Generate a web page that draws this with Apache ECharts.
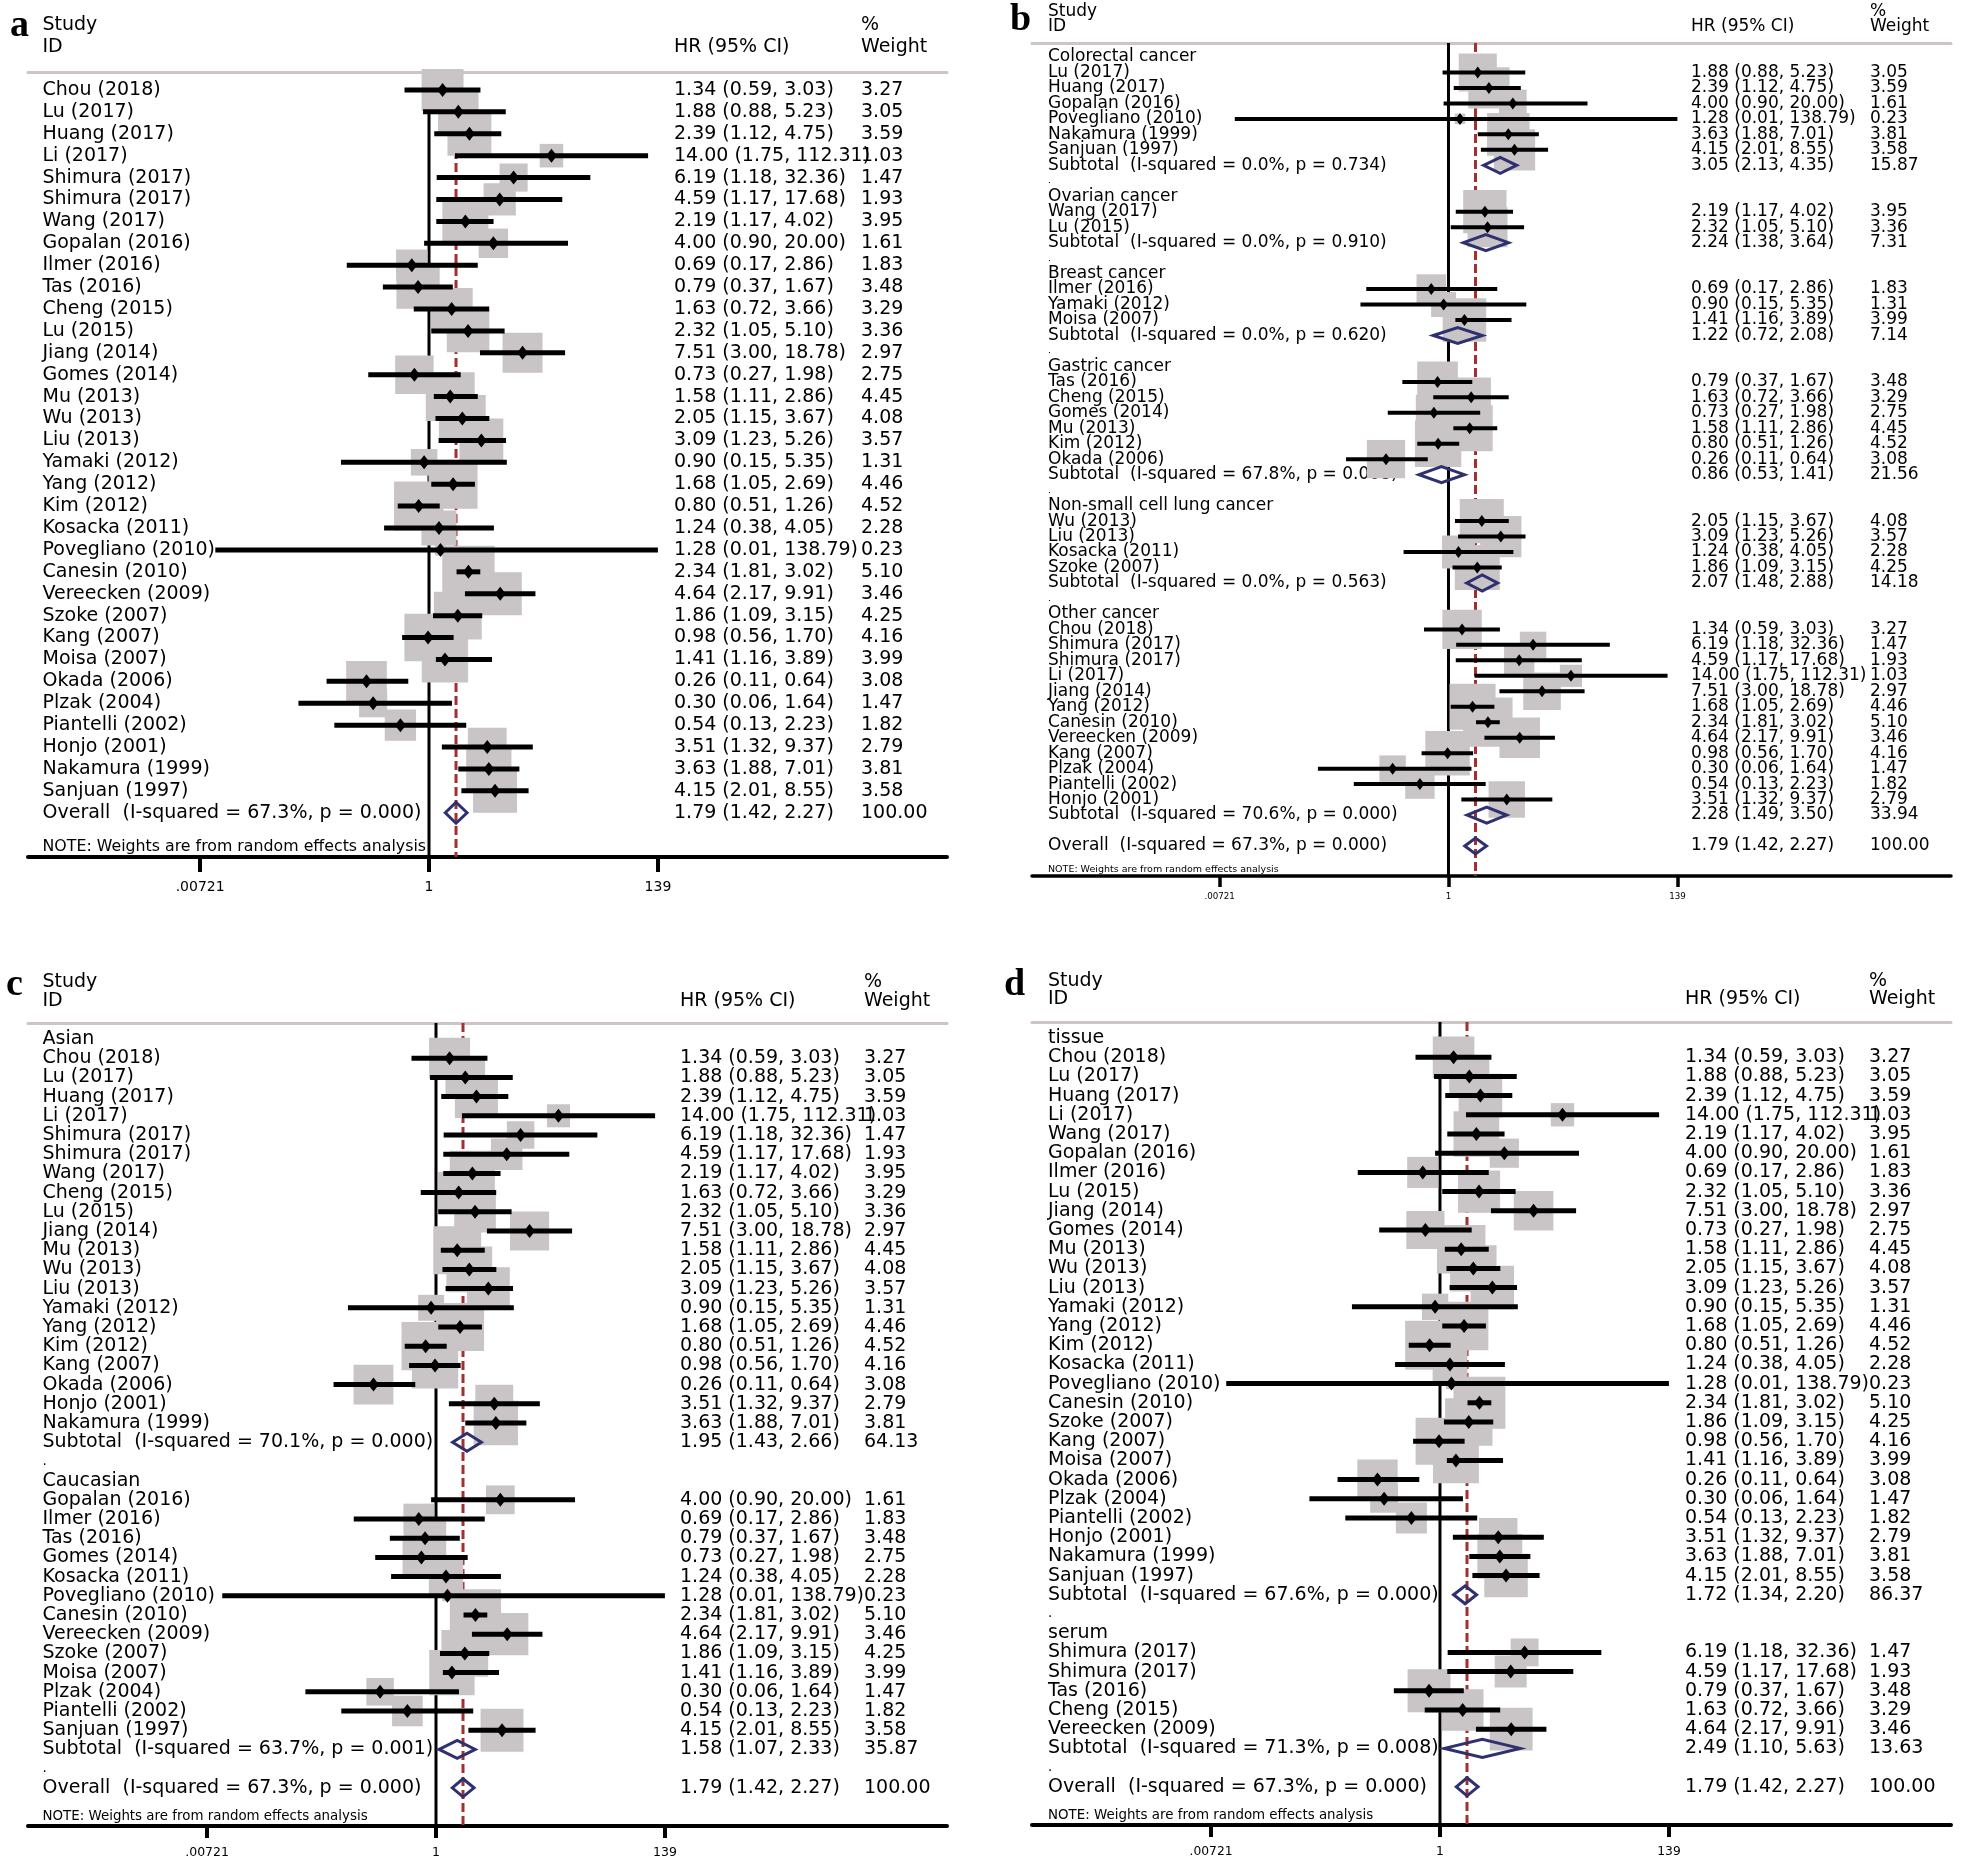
<!DOCTYPE html>
<html><head><meta charset="utf-8">
<script src="https://cdn.jsdelivr.net/npm/echarts@6/dist/echarts.min.js"></script>
<style>html,body{margin:0;padding:0;background:#fff}#main{width:1961px;height:1861px}</style>
</head><body><div id="main"></div>
<script>
// ---------------- DATA ----------------
const studyNames = ['Chou (2018)','Lu (2017)','Huang (2017)','Li (2017)','Shimura (2017)','Shimura (2017)','Wang (2017)','Gopalan (2016)','Ilmer (2016)','Tas (2016)','Cheng (2015)','Lu (2015)','Jiang (2014)','Gomes (2014)','Mu (2013)','Wu (2013)','Liu (2013)','Yamaki (2012)','Yang (2012)','Kim (2012)','Kosacka (2011)','Povegliano (2010)','Canesin (2010)','Vereecken (2009)','Szoke (2007)','Kang (2007)','Moisa (2007)','Okada (2006)','Plzak (2004)','Piantelli (2002)','Honjo (2001)','Nakamura (1999)','Sanjuan (1997)'];
const studyHR = [1.34,1.88,2.39,14.00,6.19,4.59,2.19,4.00,0.69,0.79,1.63,2.32,7.51,0.73,1.58,2.05,3.09,0.90,1.68,0.80,1.24,1.28,2.34,4.64,1.86,0.98,1.41,0.26,0.30,0.54,3.51,3.63,4.15];
const studyLower = [0.59,0.88,1.12,1.75,1.18,1.17,1.17,0.90,0.17,0.37,0.72,1.05,3.00,0.27,1.11,1.15,1.23,0.15,1.05,0.51,0.38,0.01,1.81,2.17,1.09,0.56,1.16,0.11,0.06,0.13,1.32,1.88,2.01];
const studyUpper = [3.03,5.23,4.75,112.31,32.36,17.68,4.02,20.00,2.86,1.67,3.66,5.10,18.78,1.98,2.86,3.67,5.26,5.35,2.69,1.26,4.05,138.79,3.02,9.91,3.15,1.70,3.89,0.64,1.64,2.23,9.37,7.01,8.55];
const studyWeight = [3.27,3.05,3.59,1.03,1.47,1.93,3.95,1.61,1.83,3.48,3.29,3.36,2.97,2.75,4.45,4.08,3.57,1.31,4.46,4.52,2.28,0.23,5.10,3.46,4.25,4.16,3.99,3.08,1.47,1.82,2.79,3.81,3.58];

const overallText = 'Overall  (I-squared = 67.3%, p = 0.000)';
const overallHR = 1.79, overallLower = 1.42, overallUpper = 2.27, overallWeight = 100.00;

// (b) cancer type
const cancerGroupNames = ['Colorectal cancer','Ovarian cancer','Breast cancer','Gastric cancer','Non-small cell lung cancer','Other cancer'];
const cancerGroupMembers = [[1,2,7,21,31,32],[6,11],[8,17,26],[9,10,13,14,19,27],[15,16,20,24],[0,4,5,3,12,18,22,23,25,28,29,30]];
const cancerI2 = ['0.0%','0.0%','0.0%','67.8%','0.0%','70.6%'];
const cancerP = ['0.734','0.910','0.620','0.008','0.563','0.000'];
const cancerHR = [3.05,2.24,1.22,0.86,2.07,2.28];
const cancerLower = [2.13,1.38,0.72,0.53,1.48,1.49];
const cancerUpper = [4.35,3.64,2.08,1.41,2.88,3.50];
const cancerWeight = [15.87,7.31,7.14,21.56,14.18,33.94];

// (c) ethnicity
const ethnicGroupNames = ['Asian','Caucasian'];
const ethnicGroupMembers = [[0,1,2,3,4,5,6,10,11,12,14,15,16,17,18,19,25,27,30,31],[7,8,9,13,20,21,22,23,24,26,28,29,32]];
const ethnicI2 = ['70.1%','63.7%'];
const ethnicP = ['0.000','0.001'];
const ethnicHR = [1.95,1.58];
const ethnicLower = [1.43,1.07];
const ethnicUpper = [2.66,2.33];
const ethnicWeight = [64.13,35.87];

// (d) sample type
const sampleGroupNames = ['tissue','serum'];
const sampleGroupMembers = [[0,1,2,3,6,7,8,11,12,13,14,15,16,17,18,19,20,21,22,24,25,26,27,28,29,30,31,32],[4,5,9,10,23]];
const sampleI2 = ['67.6%','71.3%'];
const sampleP = ['0.000','0.008'];
const sampleHR = [1.72,2.49];
const sampleLower = [1.34,1.10];
const sampleUpper = [2.20,5.63];
const sampleWeight = [86.37,13.63];

const axisTickValues = [0.00721, 1, 139];
const axisTickLabels = ['.00721', '1', '139'];
const nullValue = 1;
const noteText = 'NOTE: Weights are from random effects analysis';

// ---------------- LAYOUT / STYLE ----------------
const FONT = 'DejaVu Sans';
const panels = [
  {letter:'a', gN:null, left:28, top:72, width:919, height:785, xMin:1.766e-4, xMax:70470, yMin:-0.82, yMax:35.02,
   font:19, lh:18, noteFont:15.8, tickFont:14, tickLen:15, tickMargin:23, axisW:4, nameMargin:14.5, hrW:187, wW:86,
   boxK:23.2, ciW:5, pt:[11,14], sumH:21, noteOff:1.57, lx:10, ly:26, h1:25, h2:47, hrX:674, wX:861, nameX:42.5},
  {letter:'b', gN:cancerGroupNames, gM:cancerGroupMembers, i2:cancerI2, p:cancerP, hr:cancerHR, lo:cancerLower, hi:cancerUpper, w:cancerWeight, dotLast:false,
   left:1032, top:43, width:919, height:833, xMin:1.265e-4, xMax:50470, yMin:-0.905, yMax:52.94,
   font:17, lh:13, noteFont:9.5, tickFont:8.7, tickLen:11, tickMargin:16, axisW:3.5, nameMargin:16, hrW:179, wW:81,
   boxK:21.8, ciW:4, pt:[9,12], sumH:16, noteOff:1.5, lx:1010, ly:20, h1:11.5, h2:26.5, hrX:1691, wX:1870, nameX:1048},
  {letter:'c', gN:ethnicGroupNames, gM:ethnicGroupMembers, i2:ethnicI2, p:ethnicP, hr:ethnicHR, lo:ethnicLower, hi:ethnicUpper, w:ethnicWeight, dotLast:true,
   left:28, top:1023, width:919, height:803, xMin:1.521e-4, xMax:60530, yMin:-0.833, yMax:40.99,
   font:19, lh:16, noteFont:13.4, tickFont:12.5, tickLen:12, tickMargin:20.5, axisW:4, nameMargin:14.5, hrW:184, wW:83,
   boxK:22.7, ciW:5, pt:[11,14], sumH:18, noteOff:1.5, lx:6, ly:985, h1:982, h2:1001, hrX:680, wX:864, nameX:42.5},
  {letter:'d', gN:sampleGroupNames, gM:sampleGroupMembers, i2:sampleI2, p:sampleP, hr:sampleHR, lo:sampleLower, hi:sampleUpper, w:sampleWeight, dotLast:true,
   left:1032, top:1022, width:919, height:803, xMin:1.521e-4, xMax:60530, yMin:-0.833, yMax:40.99,
   font:19, lh:16, noteFont:13.4, tickFont:12.3, tickLen:12, tickMargin:20.5, axisW:4, nameMargin:16, hrW:184, wW:82,
   boxK:23, ciW:5, pt:[11,14], sumH:18, noteOff:1.5, lx:1004, ly:985, h1:981, h2:999, hrX:1685, wX:1869, nameX:1048}
];

const BOX_COLOR = '#c9c5c7';
const DIAMOND_COLOR = '#2e3070';
const RED = '#a3302f';
const HEADER_LINE = '#cdc4c5';

function fmtCI(h, l, u) { return h.toFixed(2) + ' (' + l.toFixed(2) + ', ' + u.toFixed(2) + ')'; }

function layoutRows(P) {
  const left = [], right = [], studies = [], summaries = [];
  let r = 0;
  const addStudy = i => {
    studies.push([i, r]);
    left.push([r, studyNames[i]]);
    right.push([r, fmtCI(studyHR[i], studyLower[i], studyUpper[i]), studyWeight[i].toFixed(2)]);
    r++;
  };
  const addSummary = (text, h, l, u, w) => {
    summaries.push([l, h, u, r]);
    left.push([r, text]);
    right.push([r, fmtCI(h, l, u), w.toFixed(2)]);
    r++;
  };
  if (!P.gN) {
    studyNames.forEach((_, i) => addStudy(i));
  } else {
    P.gN.forEach((g, gi) => {
      left.push([r, g]); r++;
      P.gM[gi].forEach(addStudy);
      addSummary('Subtotal  (I-squared = ' + P.i2[gi] + ', p = ' + P.p[gi] + ')', P.hr[gi], P.lo[gi], P.hi[gi], P.w[gi]);
      if (gi < P.gN.length - 1 || P.dotLast) left.push([r, '{note|.}']);
      r++;
    });
  }
  const overallRow = r;
  addSummary(overallText, overallHR, overallLower, overallUpper, overallWeight);
  left.push([overallRow + P.noteOff, '{note|' + noteText + '}']);
  return {left, right, studies, summaries};
}

function tickLabelFor(v) {
  for (let i = 0; i < axisTickValues.length; i++) {
    if (Math.abs(Math.log(v / axisTickValues[i])) < 1e-6) return axisTickLabels[i];
  }
  return '';
}

const grids = [], xAxes = [], yAxes = [], series = [], graphics = [];

panels.forEach((P, pi) => {
  const rows = layoutRows(P);
  const leftMap = new Map(rows.left.map(d => [d[0], d[1]]));
  const rightMap = new Map(rows.right.map(d => [d[0], '{h|' + d[1] + '}{w|' + d[2] + '}']));
  // empty guard labels at both ends so that ECharts' min/max label hiding never touches real rows
  const withGuards = vals => [P.yMin].concat(vals, [P.yMax]);

  grids.push({left: P.left, top: P.top, width: P.width, height: P.height, containLabel: false, outerBoundsMode: 'none'});

  xAxes.push({
    gridIndex: pi, type: 'log', logBase: 10, min: P.xMin, max: P.xMax, position: 'bottom',
    axisLine: {show: true, onZero: false, lineStyle: {color: '#000', width: P.axisW}},
    axisTick: {show: true, customValues: axisTickValues, length: P.tickLen, lineStyle: {color: '#000', width: P.axisW}},
    axisLabel: {show: true, customValues: axisTickValues, formatter: v => tickLabelFor(v), fontFamily: FONT, fontSize: P.tickFont, color: '#000', margin: P.tickMargin},
    splitLine: {show: false}, minorTick: {show: false}, minorSplitLine: {show: false}
  });
  xAxes.push({
    gridIndex: pi, type: 'value', min: 0, max: 1, position: 'top',
    axisLine: {show: true, onZero: false, lineStyle: {color: HEADER_LINE, width: 3}},
    axisTick: {show: false}, axisLabel: {show: false}, splitLine: {show: false}
  });
  yAxes.push({
    gridIndex: pi, type: 'value', inverse: true, min: P.yMin, max: P.yMax, position: 'left',
    axisLine: {show: false, onZero: false}, axisTick: {show: false}, splitLine: {show: false},
    axisLabel: {
      inside: true, margin: P.nameMargin, customValues: withGuards(rows.left.map(d => d[0])),
      formatter: v => leftMap.get(v) || '', showMinLabel: false, showMaxLabel: false, hideOverlap: false,
      fontFamily: FONT, fontSize: P.font, lineHeight: P.lh, color: '#000', align: 'left',
      rich: {note: {fontFamily: FONT, fontSize: P.noteFont, lineHeight: Math.min(P.lh, P.noteFont + 2), color: '#000'}}
    }
  });
  yAxes.push({
    gridIndex: pi, type: 'value', inverse: true, min: P.yMin, max: P.yMax, position: 'right',
    axisLine: {show: false, onZero: false}, axisTick: {show: false}, splitLine: {show: false},
    axisLabel: {
      inside: true, margin: 0, customValues: withGuards(rows.right.map(d => d[0])),
      formatter: v => rightMap.get(v) || '', showMinLabel: false, showMaxLabel: false, hideOverlap: false,
      fontFamily: FONT, fontSize: P.font, lineHeight: P.lh, color: '#000', align: 'right',
      rich: {
        h: {width: P.hrW, align: 'left', fontFamily: FONT, fontSize: P.font, lineHeight: P.lh, color: '#000'},
        w: {width: P.wW, align: 'left', fontFamily: FONT, fontSize: P.font, lineHeight: P.lh, color: '#000'}
      }
    }
  });

  const xi = pi * 2, yi = pi * 2;
  // reference lines (null effect and overall estimate)
  series.push({
    type: 'custom', xAxisIndex: xi, yAxisIndex: yi, z: 1, silent: true,
    encode: {x: 0, y: 1},
    data: [[nullValue, 0], [overallHR, 1]],
    renderItem: (params, api) => {
      const cs = params.coordSys;
      const x = api.coord([api.value(0), 0])[0];
      const dashed = api.value(1) === 1;
      return {type: 'line', shape: {x1: x, y1: cs.y, x2: x, y2: cs.y + cs.height},
        style: dashed ? {stroke: RED, lineWidth: 3, lineDash: [9, 4]} : {stroke: '#000', lineWidth: 3}};
    }
  });
  // weight boxes
  series.push({
    type: 'scatter', xAxisIndex: xi, yAxisIndex: yi, z: 2, silent: true, symbol: 'rect',
    symbolSize: v => P.boxK * Math.sqrt(v[2]),
    itemStyle: {color: BOX_COLOR, opacity: 1},
    data: rows.studies.map(([i, r]) => [studyHR[i], r, studyWeight[i]])
  });
  // confidence intervals
  series.push({
    type: 'custom', xAxisIndex: xi, yAxisIndex: yi, z: 3, silent: true,
    encode: {x: [0, 1], y: 2},
    data: rows.studies.map(([i, r]) => [studyLower[i], studyUpper[i], r]),
    renderItem: (params, api) => {
      const a = api.coord([api.value(0), api.value(2)]);
      const b = api.coord([api.value(1), api.value(2)]);
      return {type: 'line', shape: {x1: a[0], y1: a[1], x2: b[0], y2: b[1]}, style: {stroke: '#000', lineWidth: P.ciW}};
    }
  });
  // point estimates
  series.push({
    type: 'scatter', xAxisIndex: xi, yAxisIndex: yi, z: 4, silent: true, symbol: 'diamond',
    symbolSize: P.pt, itemStyle: {color: '#000', opacity: 1},
    data: rows.studies.map(([i, r]) => [studyHR[i], r])
  });
  // pooled diamonds
  series.push({
    type: 'custom', xAxisIndex: xi, yAxisIndex: yi, z: 4, silent: true,
    encode: {x: [0, 1, 2], y: 3},
    data: rows.summaries,
    renderItem: (params, api) => {
      const row = api.value(3);
      const L = api.coord([api.value(0), row]);
      const C = api.coord([api.value(1), row]);
      const R = api.coord([api.value(2), row]);
      const h = P.sumH / 2;
      return {type: 'polygon', shape: {points: [[L[0], L[1]], [C[0], C[1] - h], [R[0], R[1]], [C[0], C[1] + h]]},
        style: {fill: 'none', stroke: DIAMOND_COLOR, lineWidth: 3, lineJoin: 'miter'}};
    }
  });

  // header texts
  const txt = (x, y, s, size) => graphics.push({
    type: 'text', x: x, y: y, silent: true,
    style: {text: s, fontFamily: FONT, fontSize: size, fill: '#000', verticalAlign: 'middle', align: 'left'}
  });
  graphics.push({type: 'text', x: P.lx, y: P.ly, silent: true,
    style: {text: P.letter, fontFamily: 'Liberation Serif', fontWeight: 'bold', fontSize: 38, fill: '#000', verticalAlign: 'middle', align: 'left'}});
  txt(P.nameX, P.h1, 'Study', P.font);
  txt(P.nameX, P.h2, 'ID', P.font);
  txt(P.hrX, P.h2, 'HR (95% CI)', P.font);
  txt(P.wX, P.h1, '%', P.font);
  txt(P.wX, P.h2, 'Weight', P.font);
});

const chart = echarts.init(document.getElementById('main'), null, {renderer: 'canvas', width: 1961, height: 1861});
chart.setOption({
  backgroundColor: '#fff',
  animation: false,
  grid: grids, xAxis: xAxes, yAxis: yAxes, series: series, graphic: graphics
});
</script>
</body></html>
